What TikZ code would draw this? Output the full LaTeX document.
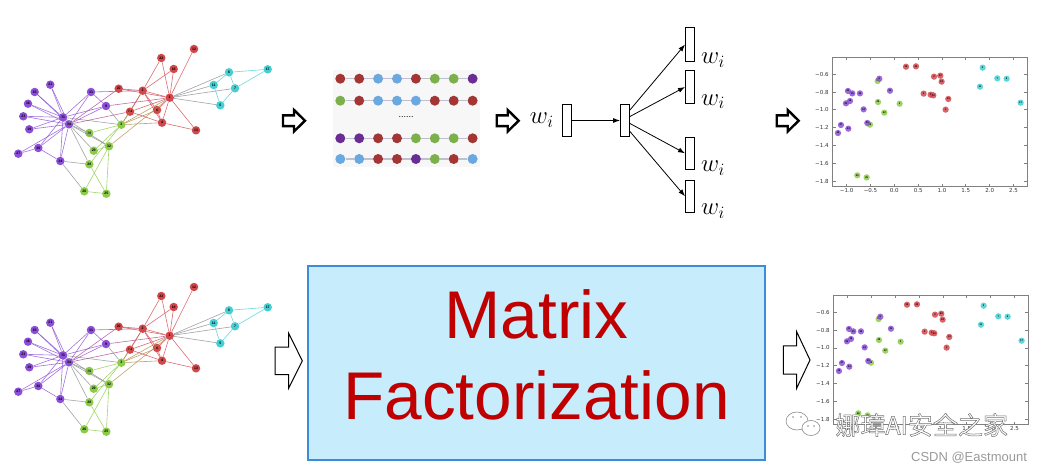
\documentclass[tikz,border=0pt]{standalone}
\usepackage{fontspec}
\setmainfont{Liberation Sans}
\newfontfamily\tickfont{DejaVu Sans}
\newfontfamily\cjkfont{Noto Sans CJK SC}
\usetikzlibrary{arrows.meta,positioning}

\definecolor{kred}{HTML}{D2474C}
\definecolor{kpurple}{HTML}{8A4FD6}
\definecolor{kgreen}{HTML}{8CCB48}
\definecolor{kcyan}{HTML}{45CFD2}
\definecolor{seqred}{HTML}{A33535}
\definecolor{seqblue}{HTML}{6AA8E0}
\definecolor{seqgreen}{HTML}{7BB04A}
\definecolor{seqpurple}{HTML}{6A2D94}
\definecolor{mfblue}{HTML}{3C8CDC}
\definecolor{mffill}{HTML}{C7ECFC}
\definecolor{mfred}{HTML}{C00000}

% outlined text (white fill, grey stroke)
\newcommand\outlined[1]{\color{white}\special{pdf:literal direct 0.45 G 0.5 w 2 Tr}#1}

\tikzset{
  vert/.style={circle, inner sep=0pt, minimum size=8.5pt, text=black,
    font=\fontsize{3.5}{3.5}\selectfont\bfseries},
  kedge/.style={line width=0.6pt, opacity=0.8},
  spt/.style={circle, inner sep=0pt, minimum size=6.3pt, fill opacity=0.85,
    text opacity=1, font=\fontsize{2.5}{2.5}\selectfont\bfseries},
  frame/.style={draw=black!50, line width=0.8pt},
  ticklab/.style={inner sep=0pt, text=black!80, font=\tickfont\fontsize{5.5}{5.5}\selectfont},
  walkdot/.style={circle, inner sep=0pt, minimum size=10pt},
  walkline/.style={draw=blue!25!black!25, line width=1.2pt},
  vecbox/.style={draw, line width=0.9pt, inner sep=0pt, minimum width=9pt, minimum height=32.5pt},
  wlab/.style={inner sep=0pt, font=\fontsize{25}{25}\selectfont},
  warr/.style={line width=0.8pt, -{Latex[length=7pt,width=5pt]}},
  hollowarr/.pic={
    \draw[pic actions] (0,-.25) -- (.5,-.25) -- (.5,-.5) -- (1,0) -- (.5,.5)
      -- (.5,.25) -- (0,.25) -- cycle;
  },
  smallarr/.style={draw, fill=white, line width=2.4pt, xscale=22, yscale=21.5},
  bigarr/.style={draw, fill=white, line width=1pt},
  mfbox/.style={draw=mfblue, fill=mffill, line width=2.5pt, inner sep=0pt,
    minimum width=457pt, minimum height=194pt},
  mftext/.style={align=center, inner sep=0pt, text=mfred,
    font=\fontsize{67.5}{81}\selectfont},
  wmark/.style={inner sep=0pt, font=\cjkfont\fontsize{25}{25}\selectfont},
  wmicon/.style={draw=black!45, fill=white, line width=0.6pt}
}

% karate club graph, drawn in pixel units
\newcommand\karate{%
  \foreach \n/\x/\y/\c in {
    1/169.7/97.7/kred, 2/142.7/90.7/kred, 3/121.3/124.7/kgreen,
    4/162/122.7/kred, 5/220.3/105.3/kcyan, 6/229/72.3/kcyan,
    7/235/88.3/kcyan, 8/157/110/kred, 9/106/106/kpurple,
    10/89.3/133/kgreen, 11/213.7/85/kcyan, 12/194/49/kred,
    13/196/130.3/kred, 14/130/111.7/kred, 15/34.7/92/kpurple,
    16/28/103.7/kpurple, 17/267.7/69.3/kcyan, 18/173.7/69/kred,
    19/29.3/129.3/kpurple, 20/118.7/88.7/kred, 21/50.3/84.7/kpurple,
    22/161.3/58/kred, 23/23.3/116.3/kpurple, 24/60.3/161/kpurple,
    25/106.3/193.7/kgreen, 26/84.3/191.3/kgreen, 27/18.3/153.7/kpurple,
    28/89.3/164.3/kgreen, 29/93.7/150.7/kgreen, 30/38.3/148/kpurple,
    31/91/92/kpurple, 32/109/146.3/kgreen, 33/63/117.3/kpurple,
    34/69/124.3/kpurple}{
    \xglobal\colorlet{kc\n}{\c}
    \node[vert, fill=\c] (v\n) at (\x,\y) {\n};
  }
  \foreach \a/\b in {1/2,1/3,1/4,1/5,1/6,1/7,1/8,1/9,1/11,1/12,1/13,1/14,
    1/18,1/20,1/22,1/32,2/3,2/4,2/8,2/14,2/18,2/20,2/22,2/31,
    3/4,3/8,3/9,3/10,3/14,3/28,3/29,3/33,4/8,4/13,4/14,5/7,5/11,
    6/7,6/11,6/17,7/17,9/31,9/33,9/34,10/34,14/34,15/33,15/34,
    16/33,16/34,19/33,19/34,20/34,21/33,21/34,23/33,23/34,
    24/26,24/28,24/30,24/33,24/34,25/26,25/28,25/32,26/32,
    27/30,27/34,28/34,29/32,29/34,30/33,30/34,31/33,31/34,
    32/33,32/34,33/34}
    \draw[kedge, draw=kc\a!50!kc\b] (v\a) -- (v\b);
}

% 2d embedding, drawn in data units
\newcommand\embplot{%
  \draw[frame] (-1.29,-0.409) rectangle (2.78,-1.864);
  \foreach \y/\t [count=\i] in {-0.6/−0.6,-0.8/−0.8,-1.0/−1.0,-1.2/−1.2,
    -1.4/−1.4,-1.6/−1.6,-1.8/−1.8}{
    \draw[frame] (-1.29,\y) -- ++(3pt,0);
    \draw[frame] (2.78,\y) -- ++(-3pt,0);
    \node[ticklab, left=4pt] (yt\i) at (-1.29,\y) {\t};
  }
  \foreach \x/\t [count=\i] in {-1.0/−1.0,-0.5/−0.5,0.0/0.0,0.5/0.5,
    1.0/1.0,1.5/1.5,2.0/2.0,2.5/2.5}{
    \draw[frame] (\x,-1.864) -- ++(0,3pt);
    \draw[frame] (\x,-0.409) -- ++(0,-3pt);
    \node[ticklab, below=2pt] (xt\i) at (\x,-1.864) {\t};
  }
  \foreach \n/\x/\y/\c in {
    10/-0.349/-0.675/kgreen, 29/-0.342/-0.911/kgreen, 32/-0.210/-1.031/kgreen,
    3/0.112/-0.930/kgreen, 28/-0.510/-1.166/kgreen, 26/-0.776/-1.736/kgreen,
    25/-0.580/-1.759/kgreen,
    12/0.245/-0.514/kred, 22/0.454/-0.510/kred, 2/0.832/-0.626/kred,
    20/0.964/-0.615/kred, 18/0.992/-0.682/kred, 4/0.615/-0.817/kred,
    8/0.762/-0.829/kred, 14/0.818/-0.836/kred, 13/1.132/-0.877/kred,
    1/1.076/-0.997/kred,
    5/1.852/-0.525/kcyan, 7/2.159/-0.645/kcyan, 6/2.355/-0.649/kcyan,
    11/1.796/-0.739/kcyan, 17/2.648/-0.919/kcyan,
    9/-0.314/-0.649/kpurple, 31/-0.091/-0.784/kpurple, 21/-0.971/-0.787/kpurple,
    15/-0.880/-0.814/kpurple, 33/-0.720/-0.814/kpurple, 16/-0.929/-0.900/kpurple,
    23/-1.013/-0.926/kpurple, 34/-0.643/-0.994/kpurple, 30/-0.566/-1.147/kpurple,
    27/-1.118/-1.170/kpurple, 24/-0.964/-1.211/kpurple, 19/-1.181/-1.260/kpurple}
    \node[spt, fill=\c] (p\n) at (\x,\y) {\n};
}

\begin{document}
\begin{tikzpicture}[x=1pt, y=-1pt]
\useasboundingbox (0,0) rectangle (1047,473);

% input graphs
\begin{scope}[name prefix=ga-]
  \karate
\end{scope}
\begin{scope}[shift={(0,238)}, name prefix=gb-]
  \karate
\end{scope}

% random walks
\fill[black!3] (333,70) rectangle (480,167);
\foreach \r/\yy/\seq in {
  1/78.7/{seqred,seqred,seqblue,seqblue,seqred,seqgreen,seqgreen,seqpurple},
  2/100.7/{seqgreen,seqred,seqblue,seqblue,seqblue,seqred,seqred,seqred},
  3/138.3/{seqpurple,seqpurple,seqred,seqred,seqgreen,seqgreen,seqgreen,seqred},
  4/159/{seqblue,seqblue,seqred,seqred,seqpurple,seqgreen,seqred,seqblue}}{
  \foreach \c [count=\i from 0] in \seq
    \node[walkdot, fill=\c] (s\r-\i) at ({340.3+18.9*\i},\yy) {};
  \foreach \i [evaluate=\i as \j using int(\i-1)] in {1,...,7}
    \draw[walkline] (s\r-\j) -- (s\r-\i);
}
\node[font=\fontsize{9}{9}\selectfont] (dots) at (406,117) {......};

% skip-gram
\node[vecbox] (win) at (566.7,120.5) {};
\node[vecbox] (whid) at (625,120.5) {};
\node[vecbox, minimum height=34pt] (wo1) at (690,44.5) {};
\node[vecbox] (wo2) at (690,87) {};
\node[vecbox] (wo3) at (690,153.3) {};
\node[vecbox] (wo4) at (690,196.3) {};
\node[wlab, left=8pt of win] (lin) {$w_i$};
\foreach \k in {1,...,4}
  \node[wlab, anchor=base west] (lo\k) at ([xshift=6pt,yshift=-1.5pt]wo\k.south east) {$w_i$};
\draw[warr] (win) -- (whid);
\draw[warr] ([yshift=10.5pt]whid.east) -- (wo1.west);
\draw[warr] ([yshift=4pt]whid.east) -- (wo2.west);
\draw[warr] ([yshift=-3pt]whid.east) -- (wo3.west);
\draw[warr] ([yshift=-11pt]whid.east) -- (wo4.west);

% outputs
\begin{scope}[shift={(894.3,21)}, x=47.7pt, y=88.9pt, name prefix=ea-]
  \embplot
\end{scope}
\begin{scope}[shift={(895.3,259)}, x=47.7pt, y=88.9pt, name prefix=eb-]
  \embplot
\end{scope}

% arrows
\pic[smallarr] (ar1) at (283,120.7) {hollowarr};
\pic[smallarr] (ar2) at (496.7,120.7) {hollowarr};
\pic[smallarr] (ar3) at (776.7,120.7) {hollowarr};
\pic[bigarr, xscale=27.3, yscale=55] (ar4) at (275,360.8) {hollowarr};
\pic[bigarr, xscale=26.7, yscale=56.6] (ar5) at (783.3,360) {hollowarr};

% matrix factorization
\node[mfbox] (mf) at (536.5,363) {};
\node[mftext] (mft) at ([yshift=8.3pt]mf.center) {Matrix\\Factorization};

% watermark
\draw[wmicon] (797,421) ellipse [x radius=11pt, y radius=9pt];
\draw[wmicon] (811,428) ellipse [x radius=9pt, y radius=7.5pt];
\foreach \ex in {793,801,808,814}
  \fill[black!45] (\ex,{\ex<805 ? 417 : 426}) circle (0.9pt);
\node[wmark] (wm) at (921.7,425) {\outlined{娜璋AI安全之家}};
\node[font=\fontsize{13}{13}\selectfont, text=black!40] (csdn) at (969,458) {CSDN @Eastmount};
\end{tikzpicture}
\end{document}
